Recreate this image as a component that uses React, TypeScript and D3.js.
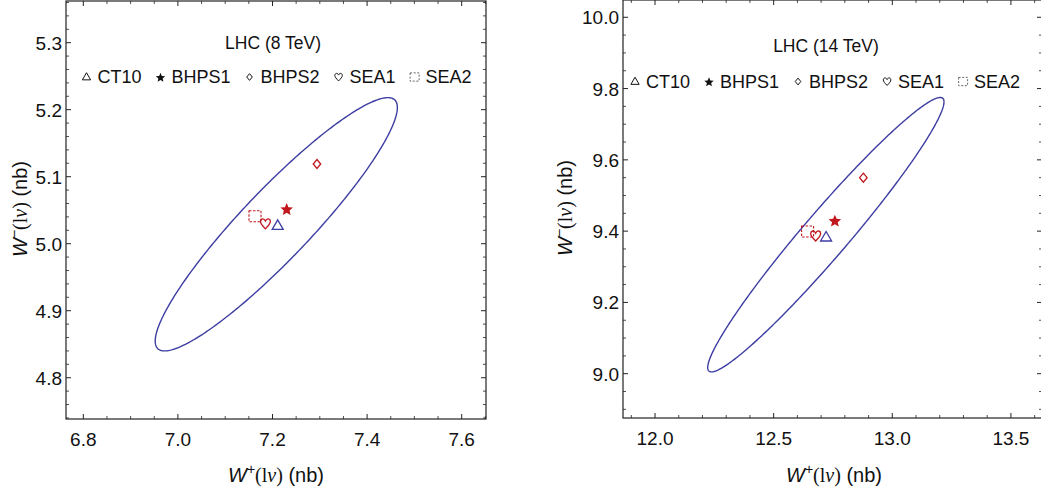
import React from "react";
import * as d3 from "d3";

// ---- data ----
const models = ["CT10", "BHPS1", "BHPS2", "SEA1", "SEA2"];
const modelShapes = ["triangle", "star", "diamond", "heart", "square"];
const wPlus8 = [7.211, 7.23, 7.294, 7.185, 7.163];
const wMinus8 = [5.027, 5.052, 5.119, 5.03, 5.041];
const wPlus14 = [12.721, 12.758, 12.878, 12.677, 12.643];
const wMinus14 = [9.383, 9.43, 9.55, 9.387, 9.399];
// ellipse: centre x, centre y, sigma x, sigma y, correlation
const ellipse8 = [7.208, 5.029, 0.256, 0.189, 0.922];
const ellipse14 = [12.72, 9.39, 0.498, 0.385, 0.968];
const xTicks8 = [6.8, 7.0, 7.2, 7.4, 7.6];
const yTicks8 = [4.8, 4.9, 5.0, 5.1, 5.2, 5.3];
const xTicks14 = [12.0, 12.5, 13.0, 13.5];
const yTicks14 = [9.0, 9.2, 9.4, 9.6, 9.8, 10.0];
const xDomain8 = [6.7634, 7.6514];
const yDomain8 = [4.7384, 5.3622];
const xDomain14 = [11.865, 13.631];
const yDomain14 = [8.8757, 10.0485];
const titles = ["LHC (8 TeV)", "LHC (14 TeV)"];

const SANS = "'Liberation Sans', Arial, Helvetica, sans-serif";
const SERIF = "'Liberation Serif', 'Times New Roman', serif";
const BLUE = "#3d3da2";
const RED = "#c0161c";
const FRAME = "#222";

function measure(text: string, font: string): number {
  if (typeof document === "undefined") return text.length * 10;
  const c = document.createElement("canvas").getContext("2d");
  if (!c) return text.length * 10;
  c.font = font;
  return c.measureText(text).width;
}

function heartPath(w: number, h: number) {
  return `M0,${0.5 * h} C${-0.3 * w},${0.2 * h} ${-0.5 * w},0 ${-0.5 * w},${-0.2 * h} C${-0.5 * w},${-0.48 * h} ${-0.15 * w},${-0.58 * h} 0,${-0.25 * h} C${0.15 * w},${-0.58 * h} ${0.5 * w},${-0.48 * h} ${0.5 * w},${-0.2 * h} C${0.5 * w},0 ${0.3 * w},${0.2 * h} 0,${0.5 * h} Z`;
}
function trianglePath(s: number) {
  const h = (s * Math.sqrt(3)) / 2;
  return `M0,${-h * 0.6} L${s / 2},${h * 0.4} L${-s / 2},${h * 0.4} Z`;
}
function diamondPath(w: number, h: number) {
  return `M0,${-h / 2} L${w / 2},0 L0,${h / 2} L${-w / 2},0 Z`;
}
function starPath(ro: number, ri: number) {
  const p: string[] = [];
  for (let i = 0; i < 10; i++) {
    const r = i % 2 === 0 ? ro : ri;
    const a = (i * Math.PI) / 5 - Math.PI / 2;
    p.push(`${(r * Math.cos(a)).toFixed(2)},${(r * Math.sin(a)).toFixed(2)}`);
  }
  return "M" + p.join("L") + "Z";
}

function Marker({ shape, x, y, color, scale, legend }: any) {
  const k = scale;
  const sw = legend ? 1 : 1.3;
  if (shape === "triangle")
    return <path d={trianglePath(11 * k)} transform={`translate(${x},${y})`} fill="none" stroke={legend ? color : BLUE} strokeWidth={sw} />;
  if (shape === "star")
    return <path d={starPath(6.6 * k, 3.0 * k)} transform={`translate(${x},${y + 0.8})`} fill={legend ? color : RED} stroke="none" />;
  if (shape === "diamond")
    return <path d={diamondPath(7.5 * k, 9 * k)} transform={`translate(${x},${y})`} fill="none" stroke={legend ? color : RED} strokeWidth={sw} />;
  if (shape === "heart")
    return <path d={heartPath(10 * k, 10.5 * k)} transform={`translate(${x},${y})`} fill="none" stroke={legend ? color : RED} strokeWidth={sw} />;
  const w = 12 * k, h = 11 * k;
  return <rect x={x - w / 2} y={y - h / 2} width={w} height={h} fill="none" stroke={legend ? "#555" : RED} strokeWidth={legend ? 0.9 : 1.1} strokeDasharray={legend ? "2,1.6" : "2.5,1.5"} />;
}

function minorTicks(domain: number[], step: number, majors: number[]) {
  const out: number[] = [];
  const start = Math.ceil(domain[0] / step - 1e-9);
  const end = Math.floor(domain[1] / step + 1e-9);
  for (let i = start; i <= end; i++) {
    const v = +(i * step).toFixed(6);
    if (!majors.some((m) => Math.abs(m - v) < 1e-6)) out.push(v);
  }
  return out;
}

function AxisLabel({ x, y, sign, rotate }: any) {
  return (
    <text x={x} y={y} textAnchor="middle" fontFamily={SANS} fontSize={20} fill="#111" transform={rotate ? `rotate(-90,${x},${y})` : undefined}>
      <tspan fontStyle="italic">W</tspan>
      <tspan dy={-8} fontSize={14}>{sign}</tspan>
      <tspan dy={8} fontFamily={SERIF}>(l</tspan>
      <tspan fontFamily={SERIF} fontStyle="italic">ν</tspan>
      <tspan fontFamily={SERIF}>)</tspan>
      <tspan> (nb)</tspan>
    </text>
  );
}

function Panel(props: any) {
  const { px, py, xDomain, yDomain, xTicks, yTicks, xMinor, yMinor, xs, ys, ell, title, titlePos, legendPos, xLabelPos, yLabelPos } = props;
  const x = d3.scaleLinear().domain(xDomain).range(px);
  const y = d3.scaleLinear().domain(yDomain).range(py);
  const [cx, cy, sx, sy, rho] = ell;
  const delta = Math.acos(rho);
  const pts: [number, number][] = d3.range(0, 361, 1).map((deg) => {
    const t = (deg * Math.PI) / 180;
    return [cx + sx * Math.cos(t), cy + sy * Math.cos(t + delta)];
  });
  const line = d3.line<[number, number]>().x((d) => x(d[0])).y((d) => y(d[1]));
  const xm = minorTicks(xDomain, xMinor, xTicks);
  const ym = minorTicks(yDomain, yMinor, yTicks);
  const L = px[0], R = px[1], T = py[1], B = py[0];
  const major = 5, minor = 3;

  // legend layout
  const font = `18px ${SANS}`;
  let cursor = legendPos[0];
  const legendItems = models.map((m, i) => {
    const sx0 = cursor;
    const tx = sx0 + 11;
    const w = measure(m, font);
    cursor = tx + w + 19;
    return { m, shape: modelShapes[i], sx: sx0, tx };
  });

  return (
    <g>
      <path d={line(pts) as string} fill="none" stroke={BLUE} strokeWidth={1.4} />
      {models.map((m, i) => (
        <Marker key={m} shape={modelShapes[i]} x={x(xs[i])} y={y(ys[i])} scale={1} />
      ))}
      {/* frame */}
      <rect x={L} y={T} width={R - L} height={B - T} fill="none" stroke={FRAME} strokeWidth={1.2} />
      {xTicks.map((t: number) => (
        <g key={"xt" + t}>
          <line x1={x(t)} x2={x(t)} y1={B} y2={B - major} stroke={FRAME} strokeWidth={1} />
          <line x1={x(t)} x2={x(t)} y1={T} y2={T + major} stroke={FRAME} strokeWidth={1} />
          <text x={x(t)} y={B + 27} textAnchor="middle" fontFamily={SANS} fontSize={19} fill="#111">{t.toFixed(1)}</text>
        </g>
      ))}
      {xm.map((t: number) => (
        <g key={"xm" + t}>
          <line x1={x(t)} x2={x(t)} y1={B} y2={B - minor} stroke={FRAME} strokeWidth={0.8} />
          <line x1={x(t)} x2={x(t)} y1={T} y2={T + minor} stroke={FRAME} strokeWidth={0.8} />
        </g>
      ))}
      {yTicks.map((t: number) => (
        <g key={"yt" + t}>
          <line x1={L} x2={L + major} y1={y(t)} y2={y(t)} stroke={FRAME} strokeWidth={1} />
          <line x1={R} x2={R - major} y1={y(t)} y2={y(t)} stroke={FRAME} strokeWidth={1} />
          <text x={L - 4} y={y(t) + 7} textAnchor="end" fontFamily={SANS} fontSize={19} fill="#111">{t.toFixed(1)}</text>
        </g>
      ))}
      {ym.map((t: number) => (
        <g key={"ym" + t}>
          <line x1={L} x2={L + minor} y1={y(t)} y2={y(t)} stroke={FRAME} strokeWidth={0.8} />
          <line x1={R} x2={R - minor} y1={y(t)} y2={y(t)} stroke={FRAME} strokeWidth={0.8} />
        </g>
      ))}
      <text x={titlePos[0]} y={titlePos[1]} textAnchor="middle" fontFamily={SANS} fontSize={17.5} fill="#111">{title}</text>
      {legendItems.map((it) => (
        <g key={"lg" + it.m}>
          <Marker shape={it.shape} x={it.sx} y={legendPos[1] - 6} color="#111" scale={0.75} legend />
          <text x={it.tx} y={legendPos[1]} fontFamily={SANS} fontSize={18} fill="#111">{it.m}</text>
        </g>
      ))}
      <AxisLabel x={xLabelPos[0]} y={xLabelPos[1]} sign="+" />
      <AxisLabel x={yLabelPos[0]} y={yLabelPos[1]} sign="−" rotate />
    </g>
  );
}

export default function App() {
  return (
    <svg width={1041} height={492} style={{ position: "absolute", left: 0, top: 0, background: "#fff" }}>
      <rect width={1041} height={492} fill="#fff" />
      <Panel
        px={[66, 486]} py={[419, 1]}
        xDomain={xDomain8} yDomain={yDomain8}
        xTicks={xTicks8} yTicks={yTicks8} xMinor={0.05} yMinor={0.02}
        xs={wPlus8} ys={wMinus8} ell={ellipse8}
        title={titles[0]} titlePos={[273, 49]} legendPos={[86.5, 83]}
        xLabelPos={[276, 482]} yLabelPos={[27, 209]}
      />
      <Panel
        px={[623, 1042]} py={[418, 0]}
        xDomain={xDomain14} yDomain={yDomain14}
        xTicks={xTicks14} yTicks={yTicks14} xMinor={0.1} yMinor={0.05}
        xs={wPlus14} ys={wMinus14} ell={ellipse14}
        title={titles[1]} titlePos={[826, 52]} legendPos={[635, 87.5]}
        xLabelPos={[834, 482]} yLabelPos={[572, 208]}
      />
    </svg>
  );
}
